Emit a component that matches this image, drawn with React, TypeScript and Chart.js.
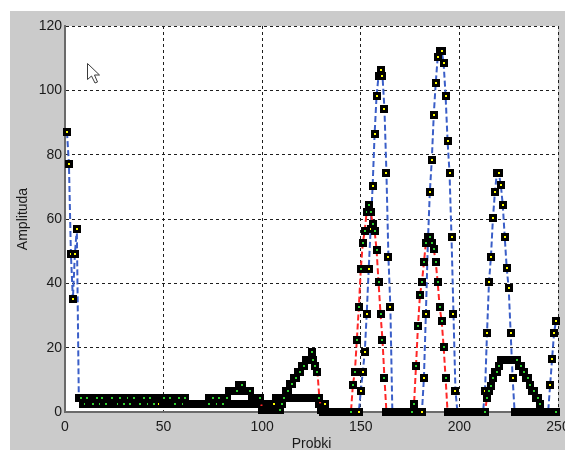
import React, { useEffect, useRef } from 'react';
import { Chart, registerables } from 'chart.js';

Chart.register(...registerables);

// sample numbers start at 1 (MATLAB indexing)
const sampleStart = 1;

// series 1: blue dashed line, yellow-faced markers
const blueValues: (number | null)[] = [
  87, 77, 49, 35, 49, 57, 4.5, 4.5, 4.5, 4.5,
  2.4, 4.5, 4.5, 4.5, 2.4, 2.4, 4.5, 4.5, 2.4, 4.5,
  4.5, 2.4, 2.4, 2.4, 4.5, 4.5, 4.5, 2.4, 4.5, 4.5,
  2.4, 2.4, 4.5, 2.4, 2.4, 4.5, 4.5, 4.5, 2.4, 2.4,
  4.5, 4.5, 2.4, 4.5, 4.5, 2.4, 2.4, 4.5, 4.5, 2.4,
  4.5, 4.5, 2.4, 4.5, 4.5, 4.5, 2.4, 2.4, 4.5, 4.5,
  2.4, 2.4, 2.4, 2.4, 2.4, 2.4, 2.4, 2.4, 2.4, 2.4,
  2.4, 2.4, 4.5, 2.4, 2.4, 4.5, 4.5, 2.4, 4.5, 4.5,
  2.4, 2.4, 2.4, 2.4, 2.4, 2.4, 2.4, 2.4, 2.4, 2.4,
  2.4, 2.4, 2.4, 2.4, 2.4, 2.4, 2.4, 2.4, 2.4, 2.4,
  2.4, 2.4, 2.4, 2.4, 2.4, 2.4, 4.5, 4.5, 4.5, 4.5,
  4.5, 4.5, 4.5, 4.5, 4.5, 4.5, 4.5, 4.5, 4.5, 4.5,
  4.5, 4.5, 4.5, 4.5, 4.5, 4.5, 4.5, 4.5, 2.4, 2.4,
  2.4, 2.4, 0, 0, 0, 0, 0, 0, 0, 0,
  0, 0, 0, 0, 0, 0, 0, 0, 0, 6.6,
  12.5, 18.5, 30.5, 44.4, 57, 70.3, 86.4, 98.3, 104.5, 106.4,
  104.5, 94.2, 74.3, 48.3, 32.5, 0, 0, 0, 0, 0,
  0, 0, 0, 0, 0, 0, 0, 0, 0, 0,
  0, 10.5, 30.5, 52.5, 68.3, 78.4, 92.4, 102.3, 110.4, 112.3,
  112.3, 108.4, 98.3, 84.3, 74.3, 54.3, 30.5, 6.6, 0, 0,
  0, 0, 0, 0, 0, 0, 0, 0, 0, 0,
  0, 0, 6.6, 24.6, 40.3, 48.3, 60.2, 68.3, 74.2, 74.2,
  70.6, 64.3, 54.3, 44.7, 38.4, 24.5, 10.5, 0, 0, 0,
  0, 0, 0, 0, 0, 0, 0, 0, 0, 0,
  0, 0, 0, 0, 0, 8.4, 16.5, 24.6, 28.4,
];

// series 2: red dashed line, green-faced markers
const redValues: (number | null)[] = [
  null, null, null, null, null, null, 4.5, 4.5, 2.4, 2.4,
  4.5, 2.4, 2.4, 2.4, 4.5, 4.5, 2.4, 2.4, 4.5, 2.4,
  2.4, 4.5, 4.5, 4.5, 2.4, 2.4, 2.4, 4.5, 2.4, 2.4,
  4.5, 4.5, 2.4, 4.5, 4.5, 2.4, 2.4, 2.4, 4.5, 4.5,
  2.4, 2.4, 4.5, 2.4, 2.4, 4.5, 4.5, 4.5, 4.5, 4.5,
  2.4, 2.4, 4.5, 2.4, 2.4, 2.4, 4.5, 4.5, 2.4, 2.4,
  4.5, 2.4, 2.4, 2.4, 2.4, 2.4, 2.4, 2.4, 2.4, 2.4,
  2.4, 2.4, 2.4, 4.5, 4.5, 2.4, 2.4, 4.5, 2.4, 2.4,
  4.5, 4.5, 6.6, 6.6, 6.6, 6.6, 6.6, 8.4, 8.4, 8.4,
  6.6, 6.6, 6.6, 6.6, 4.5, 4.5, 4.5, 4.5, 4.5, 0.5,
  0.5, 0.5, 0.5, 0.5, 0.5, 0.5, 0.5, 0.5, 0.5, 2.4,
  4.5, 6.6, 6.6, 8.7, 8.7, 10.5, 10.5, 12.5, 12.5, 14.4,
  14.4, 16.3, 16.3, 16.3, 18.5, 16.3, 14.4, 12.5, 4.3, 0.5,
  0, 0, 0, 0, 0, 0, 0, 0, 0, 0,
  0, 0, 0, 0, 0, 8.5, 12.5, 22.4, 32.5, 44.4,
  52.5, 56.4, 62.3, 64.3, 62.3, 58.4, 56.4, 50.4, 40.3, 30.5,
  22.4, 10.5, 0, 0, 0, 0, 0, 0, 0, 0,
  0, 0, 0, 0, 0, 0, 2.5, 14.4, 26.8, 36.4,
  40.3, 46.5, 52.5, 54.3, 54.3, 52.5, 50.7, 46.5, 40.3, 32.5,
  28.4, 20.3, 10.5, 0, 0, 0, 0, 0, 0, 0,
  0, 0, 0, 0, 0, 0, 0, 0, 0, 0,
  0, 0, 0, 4.5, 6.6, 8.2, 10.5, 12.5, 12.5, 14.4,
  16.3, 16.3, 16.3, 16.3, 16.3, 16.3, 16.3, 16.3, 16.3, 14.4,
  14.4, 12.5, 12.5, 10.5, 10.5, 8.4, 6.6, 6.6, 4.5, 4.5,
  2.5, 0, 0, 0, 0, 0, 0, 0, 0,
];

const xTicks = [0, 50, 100, 150, 200, 250];
const yTicks = [0, 20, 40, 60, 80, 100, 120];
const xTitle = 'Probki';
const yTitle = 'Amplituda';

const W = 565;
const H = 450;
const FONT = "'Liberation Sans', Arial, Helvetica, sans-serif";

function makeMarker(face: string): HTMLCanvasElement {
  const c = document.createElement('canvas');
  c.width = 8;
  c.height = 8;
  const g = c.getContext('2d')!;
  g.fillStyle = '#000';
  g.fillRect(0, 0, 8, 8);
  g.fillStyle = face;
  g.fillRect(3, 3, 2, 2);
  return c;
}

const backgroundPlugin = {
  id: 'figureBackground',
  beforeDraw(chart: any) {
    const { ctx, chartArea } = chart;
    ctx.save();
    ctx.fillStyle = '#ffffff';
    ctx.fillRect(0, 0, W, H);
    ctx.fillStyle = '#cbcbcb';
    ctx.fillRect(10, 11, W - 10, H - 11);
    ctx.fillStyle = '#ffffff';
    ctx.fillRect(chartArea.left, chartArea.top, chartArea.right - chartArea.left, chartArea.bottom - chartArea.top);
    ctx.restore();
  },
  beforeDatasetsDraw(chart: any) {
    chart.ctx.imageSmoothingEnabled = false;
  },
  afterDatasetsDraw(chart: any) {
    chart.ctx.imageSmoothingEnabled = true;
  },
};

const cursorPlugin = {
  id: 'mouseCursor',
  afterDraw(chart: any) {
    const ctx = chart.ctx;
    const tx = 87;
    const ty = 63;
    const pts = [
      [0, 0], [0, 16], [4, 12.5], [7.5, 19.5], [10, 18.5], [7, 11.5], [12, 11.5],
    ];
    ctx.save();
    ctx.beginPath();
    pts.forEach(([px, py], i) => {
      if (i === 0) ctx.moveTo(tx + px + 0.5, ty + py + 0.5);
      else ctx.lineTo(tx + px + 0.5, ty + py + 0.5);
    });
    ctx.closePath();
    ctx.fillStyle = '#ffffff';
    ctx.fill();
    ctx.strokeStyle = '#3a3a3a';
    ctx.lineWidth = 1;
    ctx.stroke();
    ctx.restore();
  },
};

export default function App() {
  const canvasRef = useRef<HTMLCanvasElement | null>(null);

  useEffect(() => {
    if (!canvasRef.current) return;
    const toPoints = (vals: (number | null)[]) =>
      vals.map((v, i) => ({ x: i + sampleStart, y: v }));

    const chart = new Chart(canvasRef.current, {
      type: 'line',
      data: {
        datasets: [
          {
            label: 'A',
            data: toPoints(blueValues) as any,
            borderColor: '#3a5ec8',
            borderWidth: 2,
            borderDash: [6, 3],
            pointStyle: makeMarker('#ffff00') as any,
            pointRadius: 4,
            pointHoverRadius: 4,
            tension: 0,
            clip: false as any,
            order: 2,
          },
          {
            label: 'B',
            data: toPoints(redValues) as any,
            borderColor: '#ff2626',
            borderWidth: 2,
            borderDash: [6, 3],
            pointStyle: makeMarker('#2fd02f') as any,
            pointRadius: 4,
            pointHoverRadius: 4,
            tension: 0,
            clip: false as any,
            order: 1,
          },
        ],
      },
      options: {
        responsive: false,
        animation: false,
        events: [],
        layout: {
          autoPadding: false,
          padding: { left: 0, top: 26, right: 7, bottom: 0 },
        },
        plugins: {
          legend: { display: false },
          tooltip: { enabled: false },
        },
        scales: {
          x: {
            type: 'linear',
            min: 0,
            max: 250,
            afterBuildTicks: (scale: any) => {
              scale.ticks = xTicks.map((v) => ({ value: v }));
            },
            afterFit: (scale: any) => {
              scale.height = 38;
              scale.paddingLeft = 0;
              scale.paddingRight = 0;
            },
            ticks: {
              autoSkip: false,
              maxRotation: 0,
              padding: 7,
              color: '#1a1a1a',
              font: { family: FONT, size: 14 },
            },
            grid: { color: '#1e1e1e', lineWidth: 1, drawTicks: false },
            border: { display: true, color: '#6a6a6a', width: 2, dash: [3, 3] },
            title: {
              display: true,
              text: xTitle,
              color: '#1a1a1a',
              font: { family: FONT, size: 14 },
              padding: { top: 0, bottom: -3 },
            },
          },
          y: {
            type: 'linear',
            min: 0,
            max: 120,
            afterBuildTicks: (scale: any) => {
              scale.ticks = yTicks.map((v) => ({ value: v }));
            },
            afterFit: (scale: any) => {
              scale.width = 65;
              scale.paddingTop = 0;
              scale.paddingBottom = 0;
            },
            ticks: {
              autoSkip: false,
              padding: 3,
              color: '#1a1a1a',
              font: { family: FONT, size: 14 },
            },
            grid: { color: '#1e1e1e', lineWidth: 1, drawTicks: false },
            border: { display: true, color: '#6a6a6a', width: 2, dash: [3, 3] },
            title: {
              display: true,
              text: yTitle,
              color: '#1a1a1a',
              font: { family: FONT, size: 14 },
              padding: { top: 15, bottom: 0 },
            },
          },
        },
      },
      plugins: [backgroundPlugin, cursorPlugin],
    });

    return () => {
      chart.destroy();
    };
  }, []);

  return (
    <div style={{ position: 'fixed', left: 0, top: 0, width: W, height: H, background: '#fff' }}>
      <canvas ref={canvasRef} width={W} height={H} style={{ display: 'block', width: W, height: H }} />
    </div>
  );
}
